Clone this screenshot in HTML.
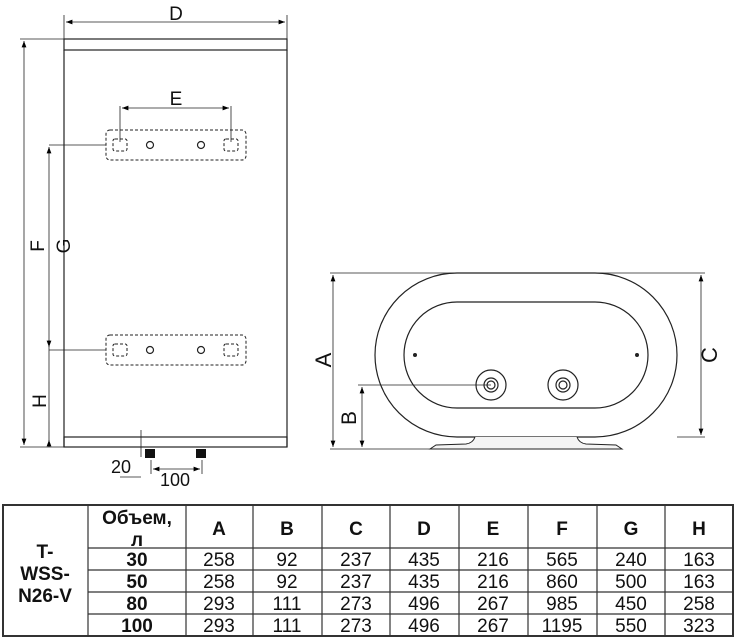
<!DOCTYPE html>
<html><head><meta charset="utf-8"><style>
body{margin:0;background:#fff;width:736px;height:640px;overflow:hidden}
svg{position:absolute;left:0;top:0}
</style></head><body>
<svg width="736" height="640" viewBox="0 0 736 640" font-family="Liberation Sans, sans-serif">
<defs><marker id="a" markerWidth="8" markerHeight="6" refX="8" refY="3" orient="auto-start-reverse"><path d="M0,0L8,3L0,6z" fill="#000"/></marker></defs>
<g stroke="#222" fill="none" stroke-width="1.2">
<rect x="64" y="39" width="223" height="11"/>
<line x1="64" y1="50" x2="64" y2="447"/><line x1="287" y1="50" x2="287" y2="447"/>
<rect x="64" y="437" width="223" height="10"/>
<line x1="64" y1="15" x2="64" y2="39" stroke-width=".8"/><line x1="287" y1="15" x2="287" y2="39" stroke-width=".8"/>
<line x1="66" y1="22" x2="285" y2="22" stroke-width=".8" marker-start="url(#a)" marker-end="url(#a)"/>
<line x1="20" y1="39" x2="64" y2="39" stroke-width=".8"/>
<line x1="20" y1="447" x2="64" y2="447" stroke-width=".8"/>
<line x1="24" y1="41" x2="24" y2="445" stroke-width=".8" marker-start="url(#a)" marker-end="url(#a)"/>
<line x1="49" y1="145" x2="106" y2="145" stroke-width=".8"/>
<line x1="49" y1="350" x2="106" y2="350" stroke-width=".8"/>
<line x1="49" y1="147" x2="49" y2="447" stroke-width=".8" marker-start="url(#a)"/>
<line x1="49" y1="340" x2="49" y2="347" stroke-width=".8" marker-end="url(#a)"/>
<line x1="49" y1="445" x2="49" y2="440" stroke-width=".8" marker-end="url(#a)"/>
<g stroke-dasharray="3,2" stroke-width="1">
<rect x="106" y="130" width="140" height="30" rx="4"/>
<rect x="113" y="139" width="14" height="12" rx="2"/><rect x="224" y="139" width="14" height="12" rx="2"/>
<rect x="106" y="335" width="140" height="30" rx="4"/>
<rect x="113" y="344" width="14" height="12" rx="2"/><rect x="224" y="344" width="14" height="12" rx="2"/>
</g>
<circle cx="150" cy="145" r="3.5"/><circle cx="201" cy="145" r="3.5"/>
<circle cx="150" cy="350" r="3.5"/><circle cx="201" cy="350" r="3.5"/>
<line x1="120" y1="106" x2="120" y2="142" stroke-width=".8"/><line x1="231" y1="106" x2="231" y2="142" stroke-width=".8"/>
<line x1="122" y1="108" x2="229" y2="108" stroke-width=".8" marker-start="url(#a)" marker-end="url(#a)"/>
<line x1="141" y1="430" x2="141" y2="457" stroke-width=".8"/>
<line x1="151" y1="460" x2="151" y2="474" stroke-width=".8"/><line x1="202" y1="460" x2="202" y2="474" stroke-width=".8"/>
<line x1="153" y1="469" x2="200" y2="469" stroke-width=".8" marker-start="url(#a)" marker-end="url(#a)"/>
<line x1="120" y1="477" x2="141" y2="477" stroke-width=".8"/>
<rect x="375" y="273" width="302" height="164" rx="82"/>
<rect x="404" y="302" width="244" height="106" rx="53"/>
<circle cx="491" cy="385" r="15"/><circle cx="491" cy="385" r="7"/><circle cx="491" cy="385" r="4"/>
<circle cx="563" cy="385" r="15"/><circle cx="563" cy="385" r="7"/><circle cx="563" cy="385" r="4"/>
<path d="M475,437 Q473,443 466,444 L436,445 L430,449 L622,449 L616,445 L586,444 Q579,443 577,437" stroke-width="1" fill="#f4f4f4"/>
<line x1="330" y1="273" x2="705" y2="273" stroke-width=".8"/>
<line x1="330" y1="449" x2="430" y2="449" stroke-width=".8"/>
<line x1="677" y1="437" x2="705" y2="437" stroke-width=".8"/>
<line x1="333" y1="275" x2="333" y2="447" stroke-width=".8" marker-start="url(#a)" marker-end="url(#a)"/>
<line x1="701" y1="275" x2="701" y2="435" stroke-width=".8" marker-start="url(#a)" marker-end="url(#a)"/>
<line x1="358" y1="385" x2="491" y2="385" stroke-width=".8"/>
<line x1="362" y1="387" x2="362" y2="447" stroke-width=".8" marker-start="url(#a)" marker-end="url(#a)"/>
</g>
<circle cx="415" cy="355" r="2" fill="#222"/><circle cx="637" cy="355" r="2" fill="#222"/>
<rect x="145" y="449" width="10" height="9" fill="#111"/><rect x="196" y="449" width="10" height="9" fill="#111"/>
<g font-size="19" fill="#111" text-anchor="middle">
<text x="176" y="20">D</text><text x="176" y="105">E</text>
<text x="121" y="473" font-size="18">20</text><text x="175" y="486" font-size="18">100</text>
<text transform="translate(44,246) rotate(-90)">F</text>
<text transform="translate(70,246) rotate(-90)">G</text>
<text transform="translate(46,401) rotate(-90)">H</text>
<text transform="translate(331,360) rotate(-90)" font-size="22">A</text>
<text transform="translate(356,418) rotate(-90)" font-size="21">B</text>
<text transform="translate(717,355) rotate(-90)" font-size="22">C</text>
</g>
<g stroke="#333" stroke-width="1.2" fill="none">
<rect x="3" y="505" width="730" height="131" stroke-width="2"/>
<line x1="88" y1="505" x2="88" y2="636"/>
<line x1="186" y1="505" x2="186" y2="636"/><line x1="253" y1="505" x2="253" y2="636"/>
<line x1="322" y1="505" x2="322" y2="636"/><line x1="390" y1="505" x2="390" y2="636"/>
<line x1="459" y1="505" x2="459" y2="636"/><line x1="528" y1="505" x2="528" y2="636"/>
<line x1="597" y1="505" x2="597" y2="636"/><line x1="665" y1="505" x2="665" y2="636"/>
<line x1="88" y1="548" x2="733" y2="548"/><line x1="88" y1="570" x2="733" y2="570"/>
<line x1="88" y1="592" x2="733" y2="592"/><line x1="88" y1="614" x2="733" y2="614"/>
</g>
<g font-size="19" fill="#111" text-anchor="middle">
<g font-weight="bold">
<text x="45" y="558">T-</text><text x="45" y="580">WSS-</text><text x="45" y="602">N26-V</text>
<text x="137" y="524">Объем,</text><text x="137" y="546">л</text>
<text x="137" y="566">30</text><text x="137" y="588">50</text><text x="137" y="610">80</text><text x="137" y="632">100</text>
<text x="219" y="535">A</text><text x="287" y="535">B</text><text x="356" y="535">C</text><text x="424" y="535">D</text>
<text x="493" y="535">E</text><text x="562" y="535">F</text><text x="631" y="535">G</text><text x="699" y="535">H</text>
</g>
<text x="219" y="566">258</text><text x="287" y="566">92</text><text x="356" y="566">237</text><text x="424" y="566">435</text><text x="493" y="566">216</text><text x="562" y="566">565</text><text x="631" y="566">240</text><text x="699" y="566">163</text>
<text x="219" y="588">258</text><text x="287" y="588">92</text><text x="356" y="588">237</text><text x="424" y="588">435</text><text x="493" y="588">216</text><text x="562" y="588">860</text><text x="631" y="588">500</text><text x="699" y="588">163</text>
<text x="219" y="610">293</text><text x="287" y="610">111</text><text x="356" y="610">273</text><text x="424" y="610">496</text><text x="493" y="610">267</text><text x="562" y="610">985</text><text x="631" y="610">450</text><text x="699" y="610">258</text>
<text x="219" y="632">293</text><text x="287" y="632">111</text><text x="356" y="632">273</text><text x="424" y="632">496</text><text x="493" y="632">267</text><text x="562" y="632">1195</text><text x="631" y="632">550</text><text x="699" y="632">323</text>
</g>
</svg>
</body></html>
